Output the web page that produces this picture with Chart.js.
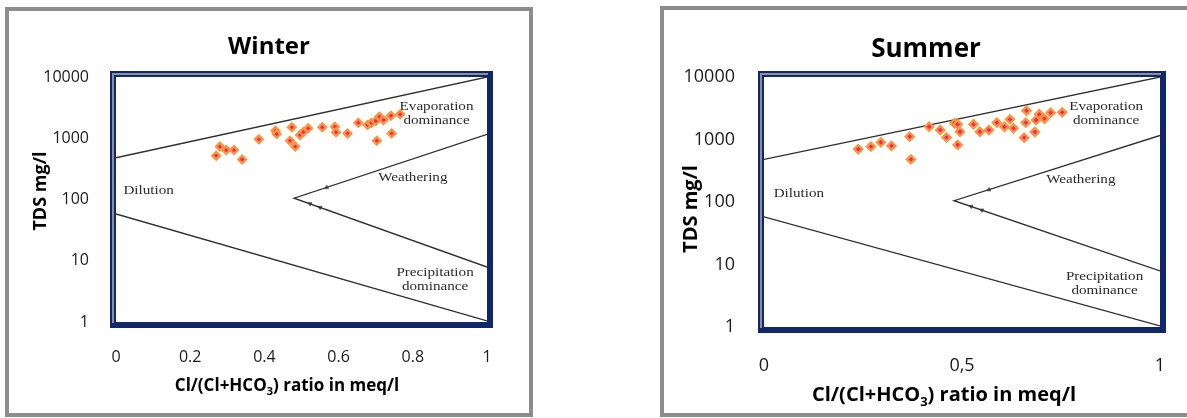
<!DOCTYPE html>
<html>
<head>
<meta charset="utf-8">
<script src="https://cdn.jsdelivr.net/npm/chart.js@4.4.1/dist/chart.umd.min.js"></script>
<style>
  html, body { margin: 0; padding: 0; background: #fff; width: 1187px; height: 418px; overflow: hidden; position: relative; }
  .frame { position: absolute; box-sizing: border-box; border: 4px solid #8c8c8c; background: #fff; }
  #winterFrame { left: 5px; top: 7px; width: 528px; height: 410px; }
  #summerFrame { left: 660px; top: 6px; width: 600px; height: 411px; }
  canvas { position: absolute; top: 0; }
  #winter { left: 0; }
  #summer { left: 640px; }
</style>
</head>
<body>
<div class="frame" id="winterFrame"></div>
<div class="frame" id="summerFrame"></div>
<canvas id="winter" width="536" height="418"></canvas>
<canvas id="summer" width="547" height="418"></canvas>
<script>
// ---- axis ticks ----
const tdsTicks = [1, 10, 100, 1000, 10000];
const tdsLabels = ['1', '10', '100', '1000', '10000'];
const winterRatioTicks = [0, 0.2, 0.4, 0.6, 0.8, 1];
const winterRatioLabels = ['0', '0.2', '0.4', '0.6', '0.8', '1'];
const summerRatioTicks = [0, 0.5, 1];
const summerRatioLabels = ['0', '0,5', '1'];

// ---- samples: Cl/(Cl+HCO3) ratio and TDS (mg/l) ----
const winterRatio = [0.270, 0.280, 0.297, 0.318, 0.340, 0.385, 0.430, 0.433, 0.474, 0.469,
                     0.483, 0.496, 0.505, 0.518, 0.556, 0.590, 0.593, 0.624, 0.653, 0.678,
                     0.688, 0.700, 0.710, 0.721, 0.741, 0.766, 0.703, 0.743];
const winterTDS   = [520, 730, 640, 640, 450, 960, 1330, 1170, 1510, 910,
                     730, 1130, 1260, 1450, 1510, 1540, 1250, 1200, 1790, 1650,
                     1780, 1910, 2250, 1990, 2330, 2460, 910, 1200];

const summerRatio = [0.238, 0.270, 0.295, 0.322, 0.368, 0.371, 0.417, 0.445, 0.461, 0.481,
                     0.489, 0.495, 0.489, 0.529, 0.545, 0.568, 0.588, 0.607, 0.621, 0.630,
                     0.661, 0.663, 0.657, 0.684, 0.687, 0.695, 0.708, 0.724, 0.753];
const summerTDS   = [700, 770, 900, 790, 1110, 480, 1600, 1420, 1080, 1820,
                     1750, 1330, 820, 1750, 1330, 1420, 1860, 1600, 2100, 1510,
                     1860, 2890, 1070, 1320, 2050, 2530, 2150, 2690, 2720];

// ---- Gibbs diagram envelope ----
const envelopeUpperRatio = [0, 1];
const envelopeUpperTDS = [480, 10000];
const envelopeLowerRatio = [0, 1];
const envelopeLowerTDS = [58, 1.04];
const weatheringRatio = [1, 0.48, 1];
const weatheringTDS = [1160, 105, 7.9];
const arrowRatio = [0.568, 0.523, 0.550];
const arrowTDS = [157, 85, 74];
const arrowAngle = [245, 295, 295];

// ---- zone names ----
const zoneNames = [['Evaporation', 'dominance'], ['Weathering'], ['Dilution'], ['Precipitation', 'dominance']];
const zoneRatio = [0.864, 0.800, 0.088, 0.860];
const zoneTDS = [2580, 228, 139, 5.0];

const toPoints = (xs, ys) => xs.map((x, i) => ({ x: x, y: ys[i] }));

const SANS = '"Open Sans", "Liberation Sans", sans-serif';
const SERIF = '"Liberation Serif", "DejaVu Serif", serif';

// zone names inside the plot
const zoneText = {
  id: 'zoneText',
  beforeDatasetsDraw(chart, args, o) {
    const { ctx, scales } = chart;
    ctx.save();
    ctx.fillStyle = '#2b2b2b';
    ctx.font = o.size + 'px ' + SERIF;
    ctx.textAlign = 'center';
    ctx.textBaseline = 'middle';
    zoneNames.forEach((lines, i) => {
      const cx = scales.x.getPixelForValue(zoneRatio[i]);
      const cy = scales.y.getPixelForValue(zoneTDS[i]);
      lines.forEach((t, j) => {
        const ly = cy + (j - (lines.length - 1) / 2) * o.leading;
        ctx.save();
        ctx.translate(cx, ly);
        ctx.scale(o.stretch, 1);
        ctx.fillText(t, 0, 0);
        ctx.restore();
      });
    });
    ctx.restore();
  }
};

// navy plot-area frame
const plotFrame = {
  id: 'plotFrame',
  afterDatasetsDraw(chart) {
    const { ctx, chartArea: a } = chart;
    ctx.save();
    ctx.strokeStyle = '#10276a';
    ctx.lineWidth = 6;
    ctx.strokeRect(a.left - 3, a.top - 3, a.right - a.left + 6, a.bottom - a.top + 6);
    ctx.strokeStyle = '#8b8f9a';
    ctx.lineWidth = 2;
    ctx.beginPath();
    ctx.moveTo(a.left - 3, a.bottom + 1);
    ctx.lineTo(a.left - 3, a.top - 3);
    ctx.lineTo(a.right + 1, a.top - 3);
    ctx.stroke();
    ctx.restore();
  }
};

// chart title and axis titles
const captions = {
  id: 'captions',
  afterDraw(chart, args, o) {
    const ctx = chart.ctx;
    ctx.save();
    ctx.fillStyle = '#000';
    ctx.textBaseline = 'alphabetic';

    ctx.textAlign = 'center';
    ctx.font = 'bold ' + o.title.size + 'px ' + SANS;
    ctx.fillText(o.title.text, o.title.x, o.title.y);

    // x title with subscript
    const s = o.xTitle.size;
    const sub = Math.round(s * 0.66);
    const parts = [['Cl/(Cl+HCO', s, 0], ['3', sub, s * 0.25], [') ratio in meq/l', s, 0]];
    let total = 0;
    const widths = parts.map(p => { ctx.font = 'bold ' + p[1] + 'px ' + SANS; const w = ctx.measureText(p[0]).width; total += w; return w; });
    let x = o.xTitle.x - total / 2;
    ctx.textAlign = 'left';
    parts.forEach((p, i) => {
      ctx.font = 'bold ' + p[1] + 'px ' + SANS;
      ctx.fillText(p[0], x, o.xTitle.y + p[2]);
      x += widths[i];
    });

    // y title
    ctx.save();
    ctx.translate(o.yTitle.x, o.yTitle.y);
    ctx.rotate(-Math.PI / 2);
    ctx.textAlign = 'center';
    ctx.font = 'bold ' + o.yTitle.size + 'px ' + SANS;
    ctx.fillText('TDS mg/l', 0, 0);
    ctx.restore();

    ctx.restore();
  }
};

function buildPanel(id, p) {
  const canvas = document.getElementById(id);
  return new Chart(canvas, {
    type: 'scatter',
    data: {
      datasets: [
        {
          label: 'samples',
          data: toPoints(p.ratio, p.tds),
          pointStyle: 'rectRot',
          pointRadius: p.marker,
          pointBorderWidth: 2.4,
          backgroundColor: '#ff1c70',
          borderColor: '#f7963c',
          order: 0
        },
        {
          label: 'upper envelope',
          data: toPoints(envelopeUpperRatio, envelopeUpperTDS),
          showLine: true, pointRadius: 0, borderColor: '#2e2e2e', borderWidth: 1.3, order: 1
        },
        {
          label: 'lower envelope',
          data: toPoints(envelopeLowerRatio, envelopeLowerTDS),
          showLine: true, pointRadius: 0, borderColor: '#2e2e2e', borderWidth: 1.3, order: 1
        },
        {
          label: 'weathering wedge',
          data: toPoints(weatheringRatio, weatheringTDS),
          showLine: true, pointRadius: 0, borderColor: '#2e2e2e', borderWidth: 1.3, order: 1
        },
        {
          label: 'trend arrows',
          data: toPoints(arrowRatio, arrowTDS),
          pointStyle: 'triangle', pointRadius: 2.2, pointRotation: arrowAngle,
          backgroundColor: '#555', borderColor: '#555', borderWidth: 0.8, order: 2
        }
      ]
    },
    options: {
      responsive: false,
      animation: false,
      events: [],
      devicePixelRatio: 1,
      layout: { padding: { left: 0, top: p.area.top, right: p.canvasW - p.area.right, bottom: 0 } },
      plugins: {
        legend: { display: false },
        tooltip: { enabled: false },
        title: { display: false },
        zoneText: { size: 13.5, leading: 14, stretch: 1.12 },
        captions: { title: p.title, xTitle: p.xTitle, yTitle: p.yTitle }
      },
      scales: {
        x: {
          type: 'linear', min: 0, max: 1,
          grid: { display: false }, border: { display: false },
          afterBuildTicks: s => { s.ticks = p.ticks.map(v => ({ value: v })); },
          afterFit: s => { s.height = p.canvasH - p.area.bottom; },
          ticks: {
            padding: p.padX, color: '#1a1a1a', maxRotation: 0, autoSkip: false,
            font: { family: SANS, size: p.tickSize },
            callback: (v, i) => p.labels[i]
          }
        },
        y: {
          type: 'logarithmic', min: 1, max: 10000,
          grid: { display: false }, border: { display: false },
          afterBuildTicks: s => { s.ticks = tdsTicks.map(v => ({ value: v })); },
          afterFit: s => { s.width = p.area.left; },
          ticks: {
            padding: p.padY, color: '#1a1a1a', autoSkip: false,
            font: { family: SANS, size: p.tickSize },
            callback: (v, i) => tdsLabels[i]
          }
        }
      }
    },
    plugins: [zoneText, plotFrame, captions]
  });
}

buildPanel('winter', {
  ratio: winterRatio, tds: winterTDS,
  ticks: winterRatioTicks, labels: winterRatioLabels,
  canvasW: 536, canvasH: 418,
  area: { left: 116, right: 487, top: 77, bottom: 322 },
  tickSize: 16, padX: 18, padY: 19, marker: 3.8,
  title: { text: 'Winter', size: 24, x: 269, y: 54 },
  xTitle: { size: 17, x: 287, y: 391 },
  yTitle: { size: 18, x: 46, y: 191 }
});

buildPanel('summer', {
  ratio: summerRatio, tds: summerTDS,
  ticks: summerRatioTicks, labels: summerRatioLabels,
  canvasW: 547, canvasH: 418,
  area: { left: 124, right: 520, top: 77, bottom: 327 },
  tickSize: 18, padX: 20, padY: 21, marker: 4.0,
  title: { text: 'Summer', size: 26, x: 286, y: 57 },
  xTitle: { size: 20, x: 304, y: 401 },
  yTitle: { size: 20, x: 57, y: 209 }
});
</script>
</body>
</html>
